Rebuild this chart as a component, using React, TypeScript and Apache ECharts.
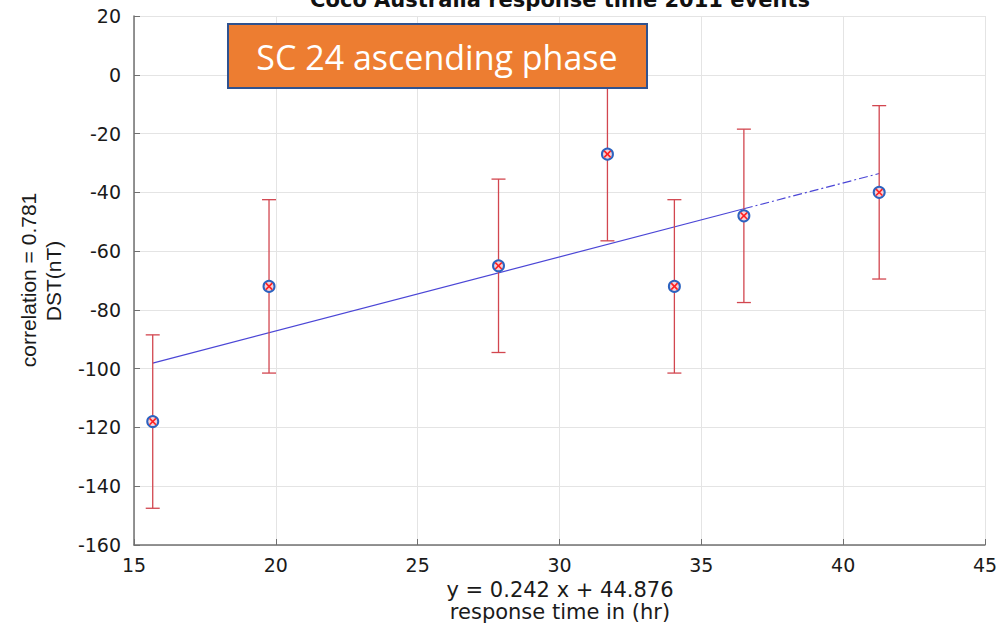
import React, { useEffect, useRef } from "react";
import * as echarts from "echarts";

// Event measurements: response time (hr) vs DST (nT)
const responseTime = [15.66, 19.76, 27.85, 31.69, 34.05, 36.5, 41.27];
const dstValues = [-118, -72, -65, -27, -72, -48, -40];
const dstError = [29.5, 29.5, 29.5, 29.5, 29.5, 29.5, 29.5];

// Least-squares fit line: solid part, then dash-dot continuation
const fitSolidX = [15.66, 36.5];
const fitSolidY = [-98.1, -45.6];
const fitDashX = [36.5, 41.27];
const fitDashY = [-45.6, -33.6];

const xTicks = { min: 15, max: 45, interval: 5 };
const yTicks = { min: -160, max: 20, interval: 20 };

const titleText = "Coco Australia response time 2011 events";
const xNameLines = ["y = 0.242 x + 44.876", "response time in (hr)"];
const yNameLines = ["correlation = 0.781", "DST(nT)"];
const boxLabel = "SC 24 ascending phase";

const FONT = "'Liberation Sans', Arial, Helvetica, sans-serif";
const WIDE = "'DejaVu Sans', 'Liberation Sans', sans-serif";

export default function App() {
  const ref = useRef<HTMLDivElement>(null);

  useEffect(() => {
    if (!ref.current) return;
    const chart = echarts.init(ref.current, undefined, { renderer: "svg" });

    const errData = responseTime.map((x, i) => [
      x,
      dstValues[i] - dstError[i],
      dstValues[i] + dstError[i],
    ]);
    const pointData = responseTime.map((x, i) => [x, dstValues[i]]);

    const option: any = {
      animation: false,
      backgroundColor: "#ffffff",
      grid: { left: 134, right: 17, top: 16, bottom: 81, containLabel: false },
      xAxis: {
        type: "value",
        min: xTicks.min,
        max: xTicks.max,
        interval: xTicks.interval,
        axisLine: { show: true, onZero: false, lineStyle: { color: "#707070", width: 1.5 } },
        axisTick: { show: true, inside: true, length: 6, lineStyle: { color: "#707070" } },
        axisLabel: { color: "#1a1a1a", fontSize: 19, fontFamily: WIDE, margin: 10 },
        splitLine: { show: true, lineStyle: { color: "#e4e4e4", width: 1 } },
      },
      yAxis: {
        type: "value",
        min: yTicks.min,
        max: yTicks.max,
        interval: yTicks.interval,
        axisLine: { show: true, onZero: false, lineStyle: { color: "#707070", width: 1.5 } },
        axisTick: { show: true, inside: true, length: 6, lineStyle: { color: "#707070" } },
        axisLabel: { color: "#1a1a1a", fontSize: 19, fontFamily: WIDE, margin: 13 },
        splitLine: { show: true, lineStyle: { color: "#e4e4e4", width: 1 } },
      },
      series: [
        {
          type: "line",
          data: fitSolidX.map((x, i) => [x, fitSolidY[i]]),
          symbol: "none",
          lineStyle: { color: "#4b46d6", width: 1.2 },
          z: 2,
        },
        {
          type: "line",
          data: fitDashX.map((x, i) => [x, fitDashY[i]]),
          symbol: "none",
          lineStyle: { color: "#4b46d6", width: 1.2, type: [9, 3, 2, 3] },
          z: 2,
        },
        {
          type: "custom",
          data: errData,
          z: 3,
          renderItem: (params: any, api: any) => {
            const x = api.value(0);
            const lo = api.coord([x, api.value(1)]);
            const hi = api.coord([x, api.value(2)]);
            const w = 7;
            const style = { stroke: "#d2464f", lineWidth: 1.3 };
            return {
              type: "group",
              children: [
                { type: "line", shape: { x1: lo[0], y1: lo[1], x2: hi[0], y2: hi[1] }, style },
                { type: "line", shape: { x1: hi[0] - w, y1: hi[1], x2: hi[0] + w, y2: hi[1] }, style },
                { type: "line", shape: { x1: lo[0] - w, y1: lo[1], x2: lo[0] + w, y2: lo[1] }, style },
              ],
            };
          },
        },
        {
          type: "custom",
          data: pointData,
          z: 4,
          renderItem: (params: any, api: any) => {
            const p = api.coord([api.value(0), api.value(1)]);
            const s = 3.2;
            const xs = { stroke: "#ff2020", lineWidth: 1.6 };
            return {
              type: "group",
              children: [
                {
                  type: "circle",
                  shape: { cx: p[0], cy: p[1], r: 5.5 },
                  style: { fill: "#f6d0d6", stroke: "#2c63c0", lineWidth: 2 },
                },
                { type: "line", shape: { x1: p[0] - s, y1: p[1] - s, x2: p[0] + s, y2: p[1] + s }, style: xs },
                { type: "line", shape: { x1: p[0] - s, y1: p[1] + s, x2: p[0] + s, y2: p[1] - s }, style: xs },
              ],
            };
          },
        },
      ],
      graphic: [
        {
          type: "text",
          x: 560,
          y: 10,
          z: 50,
          style: {
            text: titleText,
            fontFamily: WIDE,
            fontWeight: "bold",
            fontSize: 21,
            fill: "#111",
            textAlign: "center",
            textVerticalAlign: "bottom",
          },
        },
        {
          type: "text",
          x: 560,
          y: 590,
          style: {
            text: xNameLines[0],
            fontFamily: WIDE,
            fontSize: 21,
            fill: "#1a1a1a",
            textAlign: "center",
            textVerticalAlign: "middle",
          },
        },
        {
          type: "text",
          x: 560,
          y: 612,
          style: {
            text: xNameLines[1],
            fontFamily: WIDE,
            fontSize: 21,
            fill: "#1a1a1a",
            textAlign: "center",
            textVerticalAlign: "middle",
          },
        },
        {
          type: "text",
          x: 28,
          y: 280,
          rotation: Math.PI / 2,
          style: {
            text: yNameLines[0],
            fontFamily: FONT,
            fontSize: 21,
            fill: "#1a1a1a",
            textAlign: "center",
            textVerticalAlign: "middle",
          },
        },
        {
          type: "text",
          x: 53,
          y: 281,
          rotation: Math.PI / 2,
          style: {
            text: yNameLines[1],
            fontFamily: FONT,
            fontSize: 21,
            fill: "#1a1a1a",
            textAlign: "center",
            textVerticalAlign: "middle",
          },
        },
        {
          type: "rect",
          z: 100,
          shape: { x: 228, y: 24, width: 419, height: 64 },
          style: { fill: "#ED7D31", stroke: "#2F528F", lineWidth: 2 },
        },
        {
          type: "text",
          z: 101,
          x: 437,
          y: 57,
          style: {
            text: boxLabel,
            fontFamily: "'Open Sans', 'Noto Sans', sans-serif",
            fontSize: 34,
            fill: "#ffffff",
            textAlign: "center",
            textVerticalAlign: "middle",
          },
        },
      ],
    };

    chart.setOption(option);
    return () => chart.dispose();
  }, []);

  return <div ref={ref} style={{ width: 1002, height: 626, position: "absolute", left: 0, top: 0 }} />;
}
